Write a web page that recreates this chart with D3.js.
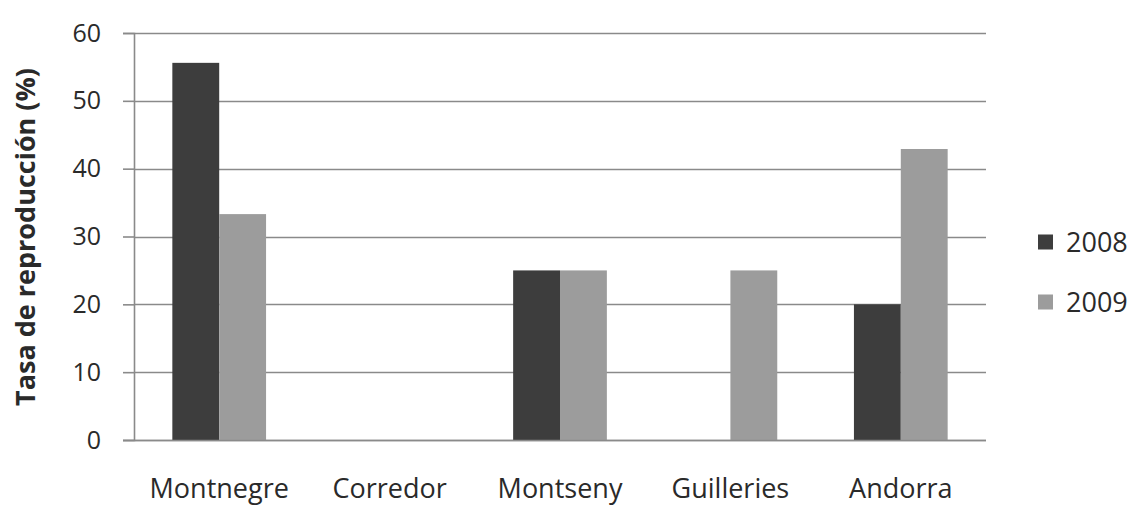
<!DOCTYPE html>
<html>
<head>
<meta charset="utf-8">
<script src="https://cdn.jsdelivr.net/npm/d3@7"></script>
<style>
  html, body { margin: 0; padding: 0; background: #fff; }
  svg { display: block; font-family: "Open Sans", "DejaVu Sans", sans-serif; }
</style>
</head>
<body>
<svg id="chart" width="1134" height="507"></svg>
<script>
// Reproduction rate by site, two seasons
const categories = ["Montnegre", "Corredor", "Montseny", "Guilleries", "Andorra"];
const years = ["2008", "2009"];
const values2008 = [55.6, 0, 25, 0, 20];
const values2009 = [33.3, 0, 25, 25, 42.9];
const yTicks = [0, 10, 20, 30, 40, 50, 60];
const yTitle = "Tasa de reproducción (%)";

const colors = { "2008": "#3d3d3d", "2009": "#9c9c9c" };
const textColor = "#2a2a2a";
const gridColor = "#8a8a8a";

const svg = d3.select("#chart");
const W = 1134, H = 507;
const margin = { left: 134, right: W - 986, top: 33, bottom: H - 440 };

const x = d3.scaleBand().domain(categories)
  .range([margin.left, W - margin.right]).paddingInner(0.45).paddingOuter(0.225);
const xSub = d3.scaleBand().domain(years).range([0, x.bandwidth()]);
const y = d3.scaleLinear().domain([0, 60]).range([H - margin.bottom, margin.top]);

// horizontal gridlines
svg.append("g").selectAll("line").data(yTicks).join("line")
  .attr("x1", margin.left).attr("x2", W - margin.right)
  .attr("y1", d => Math.round(y(d)) + 0.5).attr("y2", d => Math.round(y(d)) + 0.5)
  .attr("stroke", gridColor).attr("stroke-width", 1.6);

// bars
const series = [
  { year: "2008", vals: values2008 },
  { year: "2009", vals: values2009 }
];
series.forEach(s => {
  svg.append("g").selectAll("rect")
    .data(categories.map((c, i) => ({ c, v: s.vals[i] })).filter(d => d.v > 0))
    .join("rect")
    .attr("x", d => x(d.c) + xSub(s.year))
    .attr("width", xSub.bandwidth())
    .attr("y", d => y(d.v))
    .attr("height", d => y(0) - y(d.v))
    .attr("fill", colors[s.year]);
});

// y axis
const yAxis = d3.axisLeft(y).tickValues(yTicks).tickSize(11).tickPadding(22);
const gy = svg.append("g").attr("transform", `translate(${margin.left},0)`).call(yAxis);
gy.select(".domain").attr("stroke", gridColor).attr("stroke-width", 1.6);
gy.selectAll(".tick line").attr("stroke", gridColor).attr("stroke-width", 1.6);
gy.selectAll(".tick text").attr("font-size", 25).attr("fill", textColor)
  .attr("font-family", "'Open Sans', sans-serif");

// x axis labels and baseline
const xAxis = d3.axisBottom(x).tickSize(0);
const gx = svg.append("g").attr("transform", `translate(0,${y(0)})`).call(xAxis);
gx.select(".domain").remove();
gx.selectAll(".tick text").attr("y", 58).attr("dy", null)
  .attr("font-size", 27).attr("fill", textColor)
  .attr("font-family", "'Open Sans', sans-serif");
svg.append("line")
  .attr("x1", margin.left - 11).attr("x2", W - margin.right)
  .attr("y1", Math.round(y(0)) + 0.5).attr("y2", Math.round(y(0)) + 0.5)
  .attr("stroke", gridColor).attr("stroke-width", 1.6);

// y axis title
svg.append("text")
  .attr("transform", `translate(35,237) rotate(-90)`)
  .attr("text-anchor", "middle")
  .attr("font-size", 27).attr("font-weight", "bold").attr("fill", textColor)
  .text(yTitle);

// legend
const legend = svg.append("g").selectAll("g").data(years).join("g")
  .attr("transform", (d, i) => `translate(1038,${242 + i * 60})`);
legend.append("rect").attr("x", 0).attr("y", -7.5).attr("width", 15).attr("height", 15)
  .attr("fill", d => colors[d]);
legend.append("text").attr("x", 28).attr("y", 0).attr("dy", "0.36em")
  .attr("font-size", 27).attr("fill", textColor).text(d => d);
</script>
</body>
</html>
